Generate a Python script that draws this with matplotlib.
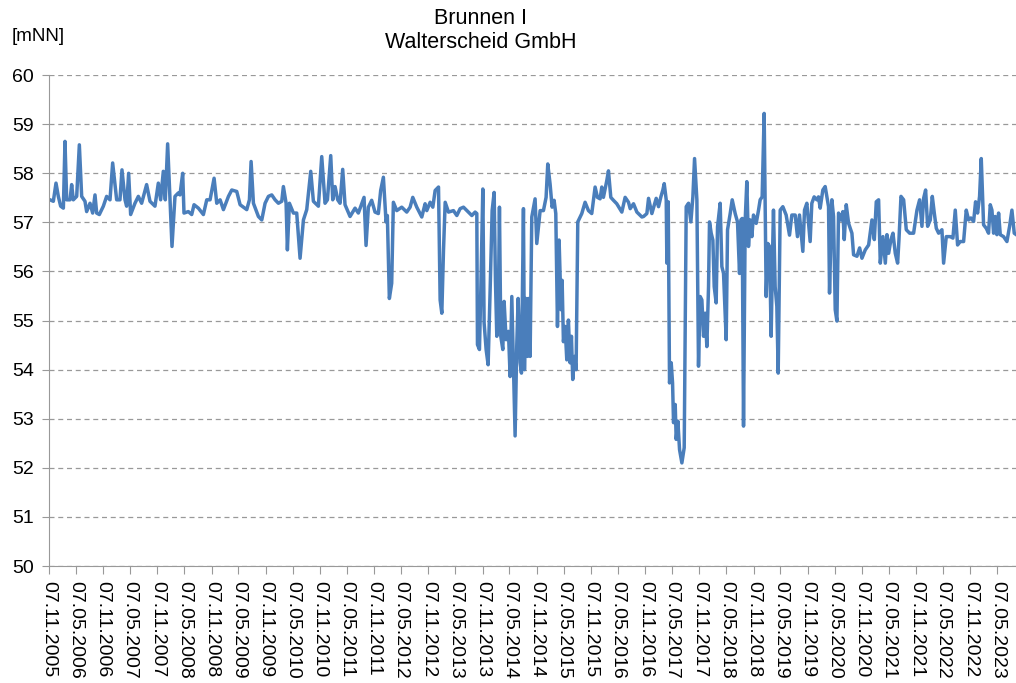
import matplotlib
matplotlib.use("Agg")
import matplotlib.pyplot as plt
import matplotlib.dates as mdates
import pandas as pd

plt.rcParams['font.family'] = ['Liberation Sans', 'DejaVu Sans']

title_lines = ["Brunnen I", "Walterscheid GmbH"]
unit = "[mNN]"

# time as decimal years, water level in mNN
years = [
    2005.869, 2005.930, 2005.979, 2006.022, 2006.065, 2006.115, 2006.145, 2006.176, 2006.238, 2006.268,
    2006.299, 2006.361, 2006.410, 2006.453, 2006.514, 2006.545, 2006.607, 2006.656, 2006.699, 2006.730,
    2006.779, 2006.853, 2006.914, 2006.976, 2007.025, 2007.099, 2007.160, 2007.197, 2007.253, 2007.283,
    2007.320, 2007.357, 2007.437, 2007.499, 2007.560, 2007.652, 2007.714, 2007.806, 2007.868, 2007.911,
    2007.960, 2007.997, 2008.040, 2008.083, 2008.120, 2008.175, 2008.237, 2008.267, 2008.317, 2008.341,
    2008.421, 2008.483, 2008.526, 2008.606, 2008.698, 2008.760, 2008.821, 2008.895, 2008.944, 2009.006,
    2009.067, 2009.160, 2009.221, 2009.313, 2009.375, 2009.498, 2009.547, 2009.578, 2009.621, 2009.713,
    2009.775, 2009.836, 2009.898, 2009.959, 2010.021, 2010.082, 2010.144, 2010.174, 2010.224, 2010.248,
    2010.285, 2010.359, 2010.420, 2010.482, 2010.544, 2010.605, 2010.679, 2010.728, 2010.820, 2010.882,
    2010.943, 2010.987, 2011.048, 2011.085, 2011.128, 2011.177, 2011.220, 2011.269, 2011.312, 2011.405,
    2011.497, 2011.558,
    2011.663, 2011.700, 2011.743, 2011.804, 2011.866, 2011.927, 2011.970, 2012.020, 2012.069, 2012.093,
    2012.130, 2012.173, 2012.204, 2012.266, 2012.358, 2012.450, 2012.512, 2012.561, 2012.635, 2012.727,
    2012.788, 2012.819, 2012.881, 2012.930, 2012.973, 2013.035, 2013.065, 2013.096, 2013.127, 2013.158,
    2013.219, 2013.311, 2013.373, 2013.434, 2013.496, 2013.588, 2013.650, 2013.711, 2013.742, 2013.754,
    2013.791, 2013.816, 2013.853, 2013.877, 2013.914, 2013.951, 2013.988, 2014.025, 2014.062, 2014.086,
    2014.111, 2014.136, 2014.160, 2014.185, 2014.222, 2014.246, 2014.283, 2014.326, 2014.357, 2014.388,
    2014.419, 2014.449, 2014.480, 2014.505, 2014.542, 2014.566, 2014.603, 2014.622, 2014.646, 2014.677,
    2014.695, 2014.726, 2014.757, 2014.818, 2014.849, 2014.911, 2014.972, 2015.021, 2015.052, 2015.095,
    2015.132, 2015.169, 2015.200, 2015.231, 2015.261, 2015.298, 2015.317, 2015.341, 2015.372, 2015.403,
    2015.433, 2015.464, 2015.489, 2015.513, 2015.544, 2015.575, 2015.606, 2015.680, 2015.741, 2015.803,
    2015.864, 2015.926, 2015.969, 2016.018, 2016.049, 2016.079, 2016.141, 2016.172, 2016.215, 2016.264,
    2016.325, 2016.418, 2016.479, 2016.541, 2016.572, 2016.633, 2016.695, 2016.787,
    2016.818, 2016.879, 2016.910, 2016.971, 2017.051, 2017.094, 2017.137, 2017.174, 2017.199, 2017.236,
    2017.248, 2017.273, 2017.297, 2017.328, 2017.353, 2017.371, 2017.402, 2017.420, 2017.451, 2017.482,
    2017.525, 2017.568, 2017.605, 2017.648, 2017.691, 2017.728, 2017.759, 2017.802, 2017.832, 2017.863,
    2017.894, 2017.925, 2017.955, 2017.986, 2018.017, 2018.035, 2018.066, 2018.097, 2018.122, 2018.158,
    2018.183, 2018.232, 2018.263, 2018.294, 2018.343, 2018.368, 2018.417, 2018.454, 2018.509, 2018.552,
    2018.589, 2018.614, 2018.638, 2018.663, 2018.694, 2018.724, 2018.755, 2018.786, 2018.817, 2018.847,
    2018.897, 2018.940, 2018.970, 2019.007, 2019.044, 2019.081, 2019.112, 2019.143, 2019.173, 2019.204,
    2019.216, 2019.247, 2019.278, 2019.303, 2019.340, 2019.389, 2019.450, 2019.512, 2019.555, 2019.617,
    2019.659, 2019.696, 2019.758, 2019.789, 2019.832, 2019.893, 2019.924, 2019.967, 2020.016, 2020.047,
    2020.078, 2020.127, 2020.170,
    2020.232, 2020.250, 2020.293, 2020.324, 2020.355, 2020.386, 2020.416, 2020.459, 2020.496, 2020.521,
    2020.558, 2020.601, 2020.662, 2020.693, 2020.755, 2020.804, 2020.847, 2020.908, 2020.970, 2021.031,
    2021.075, 2021.111, 2021.154, 2021.185, 2021.234, 2021.278, 2021.308, 2021.339, 2021.382, 2021.419,
    2021.462, 2021.505, 2021.530, 2021.567, 2021.616, 2021.665, 2021.727, 2021.800, 2021.862, 2021.911,
    2021.954, 2021.985, 2022.022, 2022.059, 2022.108, 2022.145, 2022.182, 2022.219, 2022.262, 2022.323,
    2022.354, 2022.403, 2022.477, 2022.526, 2022.569, 2022.612, 2022.661, 2022.723, 2022.772, 2022.815,
    2022.858, 2022.908, 2022.944, 2022.981, 2023.018, 2023.049, 2023.092, 2023.141, 2023.184, 2023.215,
    2023.246, 2023.277, 2023.307, 2023.338, 2023.369, 2023.400, 2023.461, 2023.523, 2023.572, 2023.615,
    2023.658, 2023.695,
]

levels = [
    57.46, 57.43, 57.80, 57.53, 57.33, 57.29, 58.65, 57.46, 57.46, 57.77,
    57.46, 57.53, 58.58, 57.53, 57.43, 57.22, 57.39, 57.19, 57.56, 57.19,
    57.16, 57.33, 57.53, 57.46, 58.21, 57.46, 57.46, 58.07, 57.46, 57.33,
    58.00, 57.16, 57.39, 57.53, 57.39, 57.77, 57.43, 57.33, 57.80, 57.46,
    58.04, 57.46, 58.60, 57.46, 56.51, 57.53, 57.60, 57.56, 58.00, 57.19,
    57.22, 57.16, 57.36, 57.29, 57.16, 57.46, 57.46, 57.90, 57.39, 57.46,
    57.26, 57.53, 57.66, 57.63, 57.36, 57.26, 57.46, 58.24, 57.39, 57.12,
    57.05, 57.39, 57.53, 57.56, 57.46, 57.39, 57.43, 57.73, 57.39, 56.44,
    57.39, 57.19, 57.19, 56.27, 57.05, 57.26, 58.04, 57.43, 57.33, 58.34,
    57.39, 57.46, 58.36, 57.46, 57.73, 57.46, 57.39, 58.08, 57.36, 57.12,
    57.29, 57.19,
    57.51, 56.53, 57.31, 57.45, 57.21, 57.18, 57.65, 57.92, 57.01, 57.14,
    55.45, 55.76, 57.41, 57.24, 57.31, 57.21, 57.31, 57.51, 57.31, 57.11,
    57.38, 57.24, 57.41, 57.31, 57.65, 57.72, 55.42, 55.15, 56.43, 57.41,
    57.21, 57.24, 57.14, 57.28, 57.31, 57.21, 57.14, 57.21, 57.18, 54.51,
    54.41, 55.62, 57.68, 54.95, 54.41, 54.10, 55.62, 57.24, 57.61, 55.82,
    54.68, 54.95, 57.31, 54.68, 54.41, 55.39, 54.61, 54.78, 53.86, 55.49,
    54.00, 52.65, 54.51, 55.45, 54.14, 53.93, 57.28, 54.00, 55.45, 54.27,
    55.45, 54.27, 57.11, 57.48, 56.57, 57.24, 57.24, 57.51, 58.19, 57.78,
    57.31, 57.45, 57.18, 54.88, 56.64, 55.22, 55.82, 54.57, 54.88, 54.20,
    55.01, 54.14, 54.68, 53.80, 54.27, 54.00, 57.01, 57.18, 57.41, 57.24,
    57.18, 57.72, 57.51, 57.48, 57.72, 57.51, 57.85, 58.05, 57.51, 57.45,
    57.38, 57.21, 57.51, 57.41, 57.28, 57.38, 57.21, 57.11,
    57.12, 57.18, 57.49, 57.18, 57.49, 57.32, 57.52, 57.66, 57.79, 57.46,
    56.17, 57.42, 53.73, 54.14, 53.73, 52.92, 53.29, 52.58, 52.95, 52.37,
    52.10, 52.41, 57.32, 57.39, 57.01, 57.52, 58.30, 57.46, 54.07, 55.49,
    55.42, 54.68, 55.15, 54.47, 55.69, 57.01, 56.78, 56.64, 55.69, 55.36,
    56.91, 57.39, 56.10, 55.96, 54.61, 56.85, 57.18, 57.46, 57.18, 57.01,
    55.96, 57.05, 57.08, 52.85, 57.05, 57.83, 56.51, 57.05, 56.71, 57.15,
    56.98, 57.25, 57.46, 57.52, 59.22, 55.49, 56.57, 56.51, 54.68, 56.64,
    57.25, 55.69, 55.29, 53.93, 57.25, 57.32, 57.15, 56.74, 57.15, 57.15,
    56.71, 57.15, 56.41, 57.25, 57.39, 56.61, 57.39, 57.52, 57.46, 57.52,
    57.29, 57.66, 57.73,
    57.32, 55.56, 57.46, 57.12, 55.22, 54.99, 57.19, 57.05, 57.22, 56.65,
    57.36, 56.98, 56.78, 56.34, 56.31, 56.48, 56.27, 56.44, 56.54, 57.05,
    56.65, 57.42, 57.46, 56.17, 56.71, 56.17, 56.75, 56.37, 56.65, 56.78,
    56.37, 56.17, 56.65, 57.53, 57.46, 56.85, 56.78, 56.78, 57.25, 57.46,
    56.92, 57.49, 57.66, 56.92, 57.05, 57.53, 57.19, 56.88, 56.78, 56.85,
    56.17, 56.71, 56.71, 56.68, 57.25, 56.54, 56.61, 56.61, 57.25, 57.05,
    57.09, 57.02, 57.42, 57.19, 57.53, 58.30, 56.95, 56.88, 56.78, 57.36,
    57.25, 56.78, 57.12, 56.75, 57.19, 56.75, 56.71, 56.61, 56.92, 57.25,
    56.78, 56.75,
]


def to_date(y):
    yr = int(y)
    start = pd.Timestamp(yr, 1, 1)
    end = pd.Timestamp(yr + 1, 1, 1)
    return start + (end - start) * (y - yr)


dates = [to_date(y) for y in years]

x_start = pd.Timestamp(2005, 11, 7)
x_end = pd.Timestamp(2023, 9, 10)
tick_dates = []
for yr in range(2005, 2024):
    for m in (5, 11):
        d = pd.Timestamp(yr, m, 7)
        if x_start <= d <= x_end:
            tick_dates.append(d)

fig = plt.figure(figsize=(10.16, 6.83), dpi=100)
ax = fig.add_axes([0.0482, 0.1713, 0.9518, 0.7187])

ax.plot(dates, levels, color='#4a7ebb', linewidth=2.5, solid_joinstyle='round')

ax.set_xlim(x_start, x_end)
ax.set_ylim(50, 60)
ax.set_yticks(range(50, 61))
ax.set_xticks(tick_dates)
ax.xaxis.set_major_formatter(mdates.DateFormatter('%d.%m.%Y'))
ax.tick_params(axis='x', labelrotation=270, labelsize=14, colors='#999999',
               labelcolor='black', length=6, pad=5)
ax.tick_params(axis='y', labelsize=14, colors='#999999', labelcolor='black',
               length=5, pad=6)
for lab in ax.get_xticklabels():
    lab.set_va('top')
    lab.set_ha('center')

ax.grid(axis='y', linestyle=(0, (4, 3)), color='#999999', linewidth=0.9)
ax.set_axisbelow(True)
for side in ('top', 'right'):
    ax.spines[side].set_visible(False)
for side in ('left', 'bottom'):
    ax.spines[side].set_color('#999999')

fig.text(0.4734, 0.9649, title_lines[0], ha='center', va='baseline', fontsize=15.5)
fig.text(0.4734, 0.9297, title_lines[1], ha='center', va='baseline', fontsize=15.5)
fig.text(0.011, 0.940, unit, ha='left', va='baseline', fontsize=13.5)

fig.savefig('out.png', dpi=100)
